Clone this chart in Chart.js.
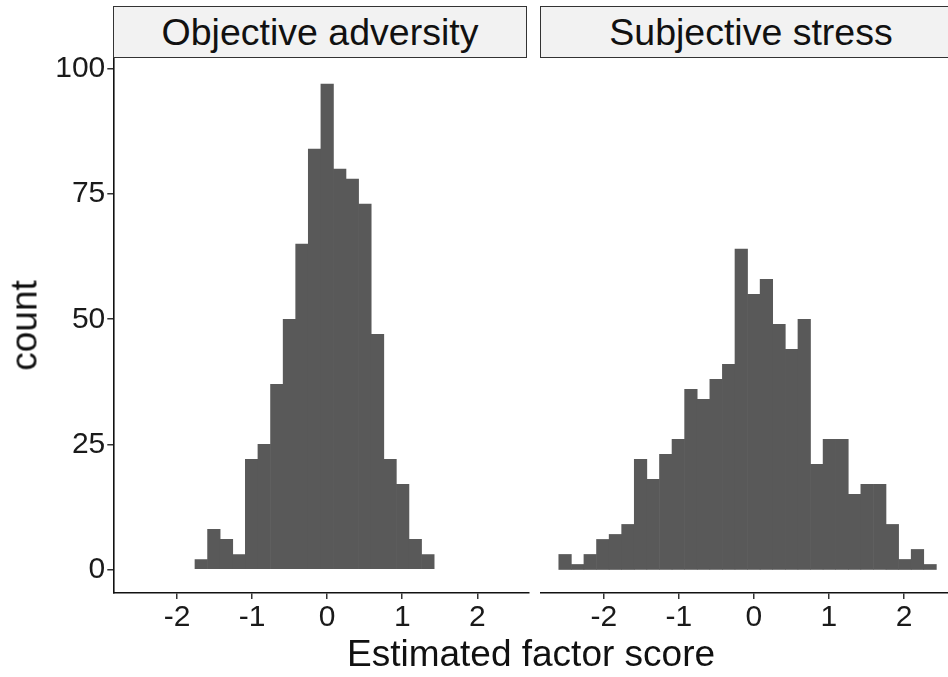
<!DOCTYPE html>
<html>
<head>
<meta charset="utf-8">
<script src="https://cdn.jsdelivr.net/npm/chart.js@4/dist/chart.umd.min.js"></script>
<style>
    body { margin: 0; background: #fff; }
    #wrap { position: relative; width: 948px; height: 677px; overflow: hidden; background: #fff;
            font-family: "Liberation Sans", Arial, Helvetica, sans-serif; color: #111; }
    canvas { position: absolute; top: 0; }
    .strip { position: absolute; top: 6px; height: 50px; background: #f2f2f2; border: 1.5px solid #333;
             display: flex; align-items: center; justify-content: center; font-size: 37.5px; }
    .title { position: absolute; font-size: 37px; line-height: 37px; white-space: nowrap; text-align: center; }
</style>
</head>
<body>
<div id="wrap">
    <canvas id="advChart" width="535" height="677" style="left:0px"></canvas>
    <canvas id="stressChart" width="415" height="677" style="left:540px"></canvas>
    <div class="strip" style="left:113px; width:412px;">Objective adversity</div>
    <div class="strip" style="left:540px; width:420px;">Subjective stress</div>
    <div class="title" style="left:331px; top:635px; width:400px;">Estimated factor score</div>
    <div class="title" style="left:-76px; top:307px; width:200px; transform: rotate(-90deg);">count</div>
</div>
<script>
// histogram bins (midpoints shared by both facets)
const binMids = [-2.516, -2.348, -2.181, -2.013, -1.845, -1.678, -1.510, -1.342, -1.174, -1.007,
                 -0.839, -0.671, -0.503, -0.336, -0.168, 0.000, 0.167, 0.335, 0.503, 0.671,
                 0.838, 1.006, 1.174, 1.342, 1.509, 1.677, 1.845, 2.013, 2.180, 2.348];

// counts per bin
const adversity = [0, 0, 0, 0, 0, 2, 8, 6, 3, 22, 25, 37, 50, 65, 84, 97, 80, 78, 73, 47,
                   22, 17, 6, 3, 0, 0, 0, 0, 0, 0];
const stress = [3, 1, 3, 6, 7, 9, 22, 18, 23, 26, 36, 34, 38, 41, 64, 55, 58, 49, 44, 50,
                21, 26, 26, 15, 17, 17, 9, 2, 4, 1];

const xTicks = [-2, -1, 0, 1, 2];
const yTicks = [0, 25, 50, 75, 100];

const fontFamily = '"Liberation Sans", Arial, Helvetica, sans-serif';
const barColor = '#595959';

function makeAxisStyle() {
    return {
        grid: { display: true, drawOnChartArea: false, drawTicks: true, tickLength: 6, color: '#333', lineWidth: 1.5 },
        border: { display: true, color: '#111', width: 1.6 },
        ticks: { font: { size: 30, family: fontFamily }, color: '#1a1a1a', maxRotation: 0, autoSkip: false }
    };
}

function makeChart(canvasId, counts, showY, rightPad) {
    const ctx = document.getElementById(canvasId).getContext('2d');
    const xAxis = makeAxisStyle();
    const yAxis = makeAxisStyle();

    // empty bins are left out so no zero-height sliver is drawn
    const points = counts
        .map((c, i) => ({ x: binMids[i], y: c }))
        .filter(p => p.y > 0);

    return new Chart(ctx, {
        type: 'bar',
        data: {
            datasets: [{
                data: points,
                backgroundColor: barColor,
                borderWidth: 0,
                barPercentage: 1.0,
                categoryPercentage: 1.0
            }]
        },
        options: {
            responsive: false,
            animation: false,
            devicePixelRatio: 1,
            layout: { padding: { top: 58, right: rightPad, left: 0, bottom: 0 } },
            plugins: { legend: { display: false }, tooltip: { enabled: false } },
            scales: {
                x: {
                    type: 'linear',
                    min: -2.85,
                    max: 2.68,
                    offset: false,
                    grid: Object.assign({}, xAxis.grid, { offset: false }),
                    border: xAxis.border,
                    ticks: Object.assign({}, xAxis.ticks, { padding: 1 }),
                    afterBuildTicks: scale => { scale.ticks = xTicks.map(v => ({ value: v })); },
                    afterFit: scale => { scale.height = 84; }
                },
                y: {
                    display: showY,
                    min: -4.7,
                    max: 102.2,
                    grid: yAxis.grid,
                    border: yAxis.border,
                    ticks: Object.assign({}, yAxis.ticks, { padding: 2 }),
                    afterBuildTicks: scale => { scale.ticks = yTicks.map(v => ({ value: v })); },
                    afterFit: scale => { scale.width = showY ? 113.3 : 0; }
                }
            }
        }
    });
}

makeChart('advChart', adversity, true, 6.7);
makeChart('stressChart', stress, false, 0);
</script>
</body>
</html>
